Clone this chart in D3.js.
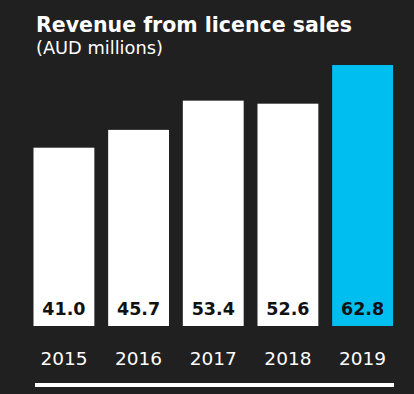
<!DOCTYPE html>
<html>
<head>
<meta charset="utf-8">
<script src="https://cdn.jsdelivr.net/npm/d3@7"></script>
<style>
html,body{margin:0;padding:0;background:#202020;}
svg{display:block;}
</style>
</head>
<body>
<script>
const years = ["2015","2016","2017","2018","2019"];
const revenue = [41.0, 45.7, 53.4, 52.6, 62.8];
const barColors = ["#ffffff","#ffffff","#ffffff","#ffffff","#00bff0"];
const title = "Revenue from licence sales";
const subtitle = "(AUD millions)";

const W = 414, H = 394;
const svg = d3.select("body").append("svg").attr("width", W).attr("height", H);
svg.append("rect").attr("width", W).attr("height", H).attr("fill", "#202020");

const x = d3.scaleBand().domain(years).range([33.5, 393]).paddingInner(0.185).paddingOuter(0);
const y = d3.scaleLinear().domain([-6, 62.8]).range([326, 65]);

const font = "'DejaVu Sans', sans-serif";

function fit(sel, target) {
  const n = sel.node();
  const w = n.getComputedTextLength();
  const fs = parseFloat(sel.attr("font-size"));
  sel.attr("font-size", fs * target / w);
}

const t = svg.append("text").attr("x", 36).attr("y", 32).attr("fill", "#fff")
  .attr("font-family", font).attr("font-weight", 700).attr("font-size", 20).text(title);
fit(t, 316);
const st = svg.append("text").attr("x", 36).attr("y", 54).attr("fill", "#fff")
  .attr("font-family", font).attr("font-weight", 400).attr("font-size", 16).text(subtitle);
fit(st, 127);

const baseY = y(-6);
svg.selectAll("rect.bar").data(years).enter().append("rect")
  .attr("class", "bar")
  .attr("x", d => x(d))
  .attr("width", x.bandwidth())
  .attr("y", (d, i) => y(revenue[i]))
  .attr("height", (d, i) => baseY - y(revenue[i]))
  .attr("fill", (d, i) => barColors[i]);

svg.selectAll("text.val").data(years).enter().append("text")
  .attr("class", "val")
  .attr("x", d => x(d) + x.bandwidth() / 2)
  .attr("y", 315)
  .attr("text-anchor", "middle")
  .attr("fill", "#111")
  .attr("font-family", font).attr("font-weight", 700).attr("font-size", 17.5)
  .text((d, i) => revenue[i].toFixed(1));

const ax = svg.append("g").attr("transform", "translate(0," + baseY + ")")
  .call(d3.axisBottom(x).tickSize(0));
ax.select(".domain").remove();
ax.selectAll("text").attr("fill", "#fff").attr("font-family", font)
  .attr("font-size", 18.5).attr("font-weight", 400).attr("dy", 0).attr("y", 39);

svg.append("line").attr("x1", 35).attr("x2", 394).attr("y1", 385).attr("y2", 385)
  .attr("stroke", "#fff").attr("stroke-width", 4);
</script>
</body>
</html>
